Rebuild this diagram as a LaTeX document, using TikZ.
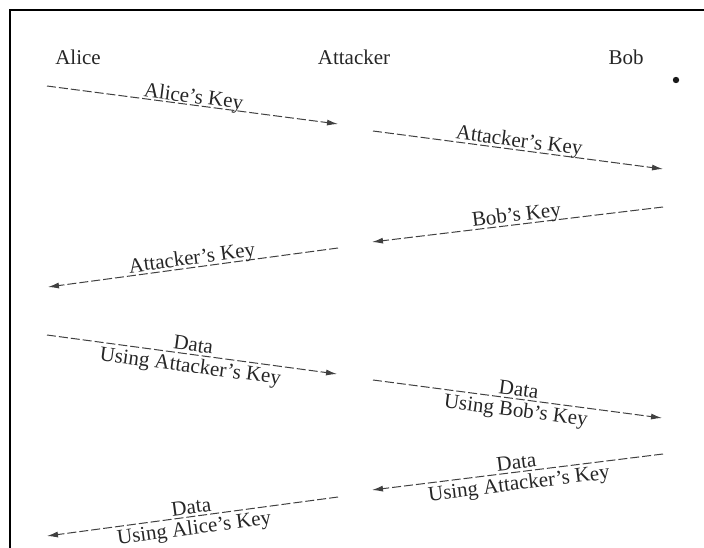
\documentclass[tikz,border=0pt]{standalone}
\usepackage{fontspec}
\setmainfont{Liberation Serif}
\usetikzlibrary{arrows.meta}
\begin{document}
\begin{tikzpicture}[x=1pt,y=-1pt,
  arr/.style={draw=black!75, line width=1pt, dash pattern=on 9pt off 3pt,
    -{Latex[length=11pt,width=6pt]}},
  lbl/.style={sloped, anchor=base, inner sep=0pt, pos=0.5,
    font=\fontsize{21}{24}\selectfont, text=black!85},
  who/.style={anchor=base, inner sep=0pt, font=\fontsize{21}{24}\selectfont, text=black!85}]
\useasboundingbox (0,0) rectangle (704,548);
\draw[line width=2pt] (704,10.5) -- (9.5,10.5) -- (9.5,548);

\node[who] (alice) at (78,65) {Alice};
\node[who] (attacker) at (354,65) {Attacker};
\node[who] (bob) at (626,65) {Bob};
\fill[black!90] (676,80) circle (3.2);

\coordinate (a1s) at (47,86);   \coordinate (a1e) at (338,124);
\coordinate (a2s) at (373,131); \coordinate (a2e) at (663,169);
\coordinate (a3s) at (663,207); \coordinate (a3e) at (372,242);
\coordinate (a4s) at (338,248); \coordinate (a4e) at (48,287);
\coordinate (a5s) at (47,335);  \coordinate (a5e) at (337,374);
\coordinate (a6s) at (373,380); \coordinate (a6e) at (662,418);
\coordinate (a7s) at (663,454); \coordinate (a7e) at (372,490);
\coordinate (a8s) at (338,497); \coordinate (a8e) at (47,536);

\draw[arr] (a1s) -- node[lbl]{\raisebox{2pt}{Alice's Key}} (a1e);
\draw[arr] (a2s) -- node[lbl]{\raisebox{3pt}{Attacker's Key}} (a2e);
\draw[arr] (a3s) -- node[lbl]{\raisebox{3pt}{Bob's Key}} (a3e);
\draw[arr] (a4s) -- node[lbl]{\raisebox{3pt}{Attacker's Key}} (a4e);

\draw[arr] (a5s) -- node[lbl]{\raisebox{3pt}{Data}}
  node[lbl]{\raisebox{-18pt}{Using Attacker's Key}} (a5e);
\draw[arr] (a6s) -- node[lbl]{\raisebox{3pt}{Data}}
  node[lbl]{\raisebox{-18pt}{Using Bob's Key}} (a6e);
\draw[arr] (a7s) -- node[lbl]{\raisebox{3pt}{Data}}
  node[lbl]{\raisebox{-18pt}{Using Attacker's Key}} (a7e);
\draw[arr] (a8s) -- node[lbl]{\raisebox{3pt}{Data}}
  node[lbl]{\raisebox{-18pt}{Using Alice's Key}} (a8e);
\end{tikzpicture}
\end{document}
